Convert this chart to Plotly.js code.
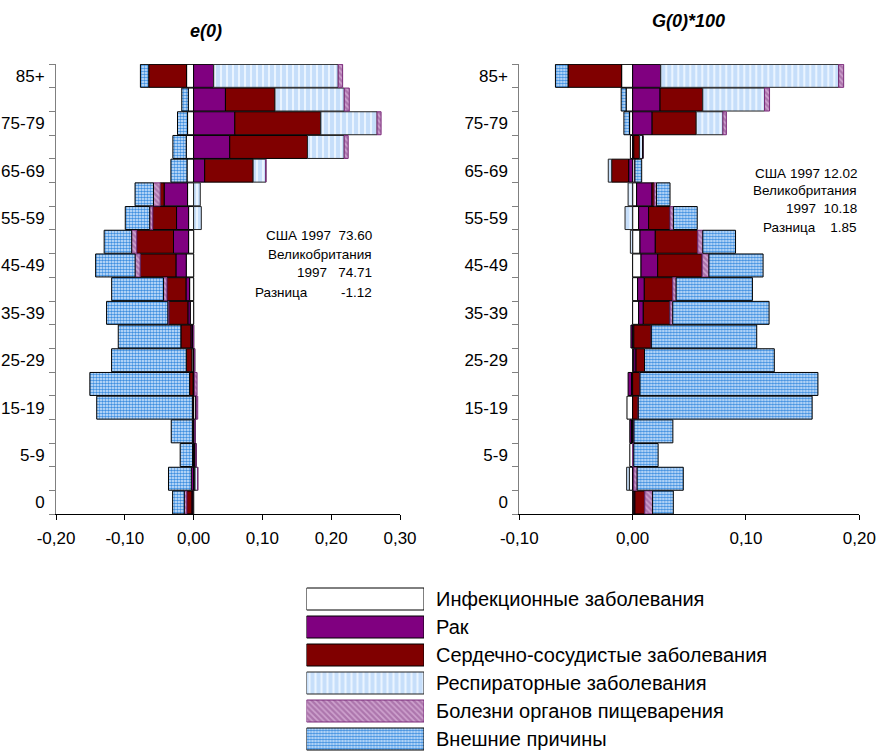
<!DOCTYPE html>
<html>
<head>
<meta charset="utf-8">
<script src="https://cdn.plot.ly/plotly-3.0.1.min.js"></script>
<style>html,body{margin:0;padding:0;background:#fff;}#chart{width:877px;height:754px;}</style>
</head>
<body>
<div id="chart"></div>
<script>
// Age groups (bottom to top)
const categories = ["0","1-4","5-9","10-14","15-19","20-24","25-29","30-34","35-39","40-44","45-49","50-54","55-59","60-64","65-69","70-74","75-79","80-84","85+"];
const seriesNames = ["Инфекционные заболевания","Рак","Сердечно-сосудистые заболевания","Респираторные заболевания","Болезни органов пищеварения","Внешние причины"];

// x tick labels
const e0TickVals = [-0.2,-0.1,0,0.1,0.2,0.3];
const e0TickText = ["-0,20","-0,10","0,00","0,10","0,20","0,30"];
const g0TickVals = [-0.1,0,0.1,0.2];
const g0TickText = ["-0,10","0,00","0,10","0,20"];

// e(0) decomposition
const e0_infectious = [-0.001,0.002,0.0015,-0.0008,0.003,-0.0008,-0.0024,-0.0015,-0.0049,-0.0058,-0.0107,-0.0073,-0.0073,-0.0088,-0.0096,-0.0107,-0.0088,-0.0077,-0.0102];
const e0_cancer     = [-0.0015,-0.0034,-0.0015,0.002,0.001,0.0015,0.0015,-0.0024,-0.0034,-0.0053,-0.015,-0.0219,-0.0175,-0.034,0.0161,0.0525,0.0599,0.0463,0.0292];
const e0_cardio     = [-0.0075,0,0.002,-0.001,-0.0018,-0.005,-0.0083,-0.0146,-0.0277,-0.0277,-0.052,-0.0535,-0.0346,-0.0058,0.0704,0.113,0.125,0.072,-0.055];
const e0_resp       = [0,0.004,0,0,0,0,0,0,0,0,0,0,0.0112,0.0097,0.0185,0.0534,0.0818,0.1007,0.181];
const e0_digest     = [-0.0035,0,0,0,0.002,0.0035,0,0,-0.0015,-0.0049,-0.0073,-0.0073,-0.0044,-0.0097,0,0.0058,0.0058,0.0073,0.0064];
const e0_external   = [-0.017,-0.0331,-0.018,-0.0307,-0.139,-0.145,-0.1085,-0.091,-0.089,-0.0754,-0.0574,-0.040,-0.0355,-0.0268,-0.0234,-0.0194,-0.0146,-0.0095,-0.0121];

// G(0)*100 decomposition
const g0_infectious = [0.001,-0.0029,-0.0025,-0.001,-0.005,-0.001,0.001,0.001,0.0053,0.0044,0.0074,0.0065,0.0053,0.0035,0.002,-0.002,-0.0027,-0.0057,-0.0097];
const g0_cancer     = [0.001,0.001,0,-0.0015,0,-0.003,0.002,-0.0015,0.0041,0.0059,0.0147,0.0135,0.0088,0.0136,-0.0035,0.001,0.0172,0.0242,0.0248];
const g0_cardio     = [0.0088,0,0,0.0012,0.005,0.0065,0.0075,0.0155,0.0236,0.0251,0.0393,0.0375,0.0189,0.002,-0.015,0.005,0.0389,0.0377,-0.0473];
const g0_resp       = [0,-0.0024,0,0,0,0,0,0,0,0,0,-0.002,-0.0067,-0.004,-0.003,0.003,0.0236,0.0545,0.157];
const g0_digest     = [0.0068,0.003,0.001,0,0,0,0,0,0.0024,0.003,0.0059,0.0044,0.003,0.002,0,0,0.003,0.0044,0.0044];
const g0_external   = [0.0183,0.0407,0.0215,0.0343,0.1534,0.157,0.1145,0.093,0.085,0.0673,0.0478,0.0289,0.021,0.0119,0.006,0,-0.005,-0.0044,-0.0111];

const e0Texts = ["США 1997\u00a0\u00a073.60","Великобритания","1997\u00a0\u00a0\u00a074.71","Разница\u00a0\u00a0\u00a0\u00a0\u00a0\u00a0\u00a0\u00a0\u00a0-1.12"];
const g0Texts = ["США 1997 12.02","Великобритания","1997\u00a0\u00a010.18","Разница\u00a0\u00a0\u00a0\u00a01.85"];

const FONT = "Liberation Sans, Arial, sans-serif";
const styles = [
  {color:"#ffffff", line:{color:"#000000",width:1}},
  {color:"#800080", line:{color:"#000000",width:1}},
  {color:"#800000", line:{color:"#000000",width:1}},
  {color:"#cce4fc", line:{color:"#222222",width:1}, pattern:{shape:"|", fgcolor:"#eaf4ff", bgcolor:"#c6defa", size:6, solidity:0.35}},
  {color:"#b480b4", line:{color:"#7a2a7a",width:1}, pattern:{shape:"\\", fgcolor:"#cfa3cf", bgcolor:"#ad76ad", size:4, solidity:0.4}},
  {color:"#9cc6f0", line:{color:"#000000",width:1}, pattern:{shape:".", fgcolor:"#3f8fe0", bgcolor:"#dcecff", size:3, solidity:0.55}}
];

const e0Series = [e0_infectious,e0_cancer,e0_cardio,e0_resp,e0_digest,e0_external];
const g0Series = [g0_infectious,g0_cancer,g0_cardio,g0_resp,g0_digest,g0_external];

function markerFor(i){
  const s = styles[i];
  const m = {color:s.color, line:s.line};
  if (s.pattern) m.pattern = Object.assign({fillmode:"replace"}, s.pattern);
  return m;
}

const traces = [];
e0Series.forEach((vals,i)=>{
  traces.push({type:"bar", orientation:"h", x:vals, y:categories, xaxis:"x", yaxis:"y", name:seriesNames[i], marker:markerFor(i), showlegend:false, hoverinfo:"x+name"});
});
g0Series.forEach((vals,i)=>{
  traces.push({type:"bar", orientation:"h", x:vals, y:categories, xaxis:"x2", yaxis:"y2", name:seriesNames[i], marker:markerFor(i), showlegend:false, hoverinfo:"x+name"});
});
// legend swatches
seriesNames.forEach((n,i)=>{
  traces.push({type:"bar", orientation:"h", x:[1], y:[n], width:[0.786], xaxis:"x3", yaxis:"y3", name:n, marker:markerFor(i), showlegend:false, hoverinfo:"name"});
});

const W=877, H=754;
const px = v => v/W;
const py = v => 1 - v/H;
const yLabels = categories.map((c,i)=> i%2===0 ? c : "");

const yBase = {
  type:"category", categoryorder:"array", categoryarray:categories,
  tickmode:"array", tickvals:categories, ticktext:yLabels, tickson:"boundaries",
  ticks:"outside", ticklen:6, tickcolor:"#808080", showline:true, linecolor:"#808080", linewidth:1,
  showgrid:false, zeroline:false, range:[-0.5,18.5], domain:[py(514.3), py(64)],
  tickfont:{family:FONT,size:17,color:"#000"}, ticklabelstandoff:7, automargin:false, fixedrange:true
};
const xBase = {
  tickmode:"array", ticks:"outside", ticklen:5, tickcolor:"#000", showline:true, linecolor:"#000", linewidth:1,
  showgrid:false, zeroline:true, zerolinecolor:"#808080", zerolinewidth:1,
  tickfont:{family:FONT,size:17,color:"#000"}, automargin:false, fixedrange:true, ticklabelstandoff:3
};

const annotations = [
  {text:"e(0)", x:px(206), y:py(31), xref:"paper", yref:"paper", showarrow:false, xanchor:"center", yanchor:"middle",
   font:{family:FONT,size:18,color:"#000",weight:"bold",style:"italic"}},
  {text:"G(0)*100", x:px(688), y:py(21), xref:"paper", yref:"paper", showarrow:false, xanchor:"center", yanchor:"middle",
   font:{family:FONT,size:18,color:"#000",weight:"bold",style:"italic"}}
];
const e0Y=[235,254,273,292], g0Y=[173,191,209,227];
e0Texts.forEach((t,i)=>annotations.push({text:t, x:px(374), y:py(e0Y[i]), xref:"paper", yref:"paper", showarrow:false, xanchor:"right", yanchor:"middle", font:{family:FONT,size:13.5,color:"#000"}}));
g0Texts.forEach((t,i)=>annotations.push({text:t, x:px(859), y:py(g0Y[i]), xref:"paper", yref:"paper", showarrow:false, xanchor:"right", yanchor:"middle", font:{family:FONT,size:13.5,color:"#000"}}));

const layout = {
  width:W, height:H, margin:{l:0,r:0,t:0,b:0}, paper_bgcolor:"#fff", plot_bgcolor:"rgba(0,0,0,0)",
  barmode:"relative", bargap:0.03, showlegend:false,
  font:{family:FONT,color:"#000"},
  xaxis:Object.assign({}, xBase, {domain:[px(56),px(400)], range:[-0.2,0.3], tickvals:e0TickVals, ticktext:e0TickText, anchor:"y"}),
  yaxis:Object.assign({}, yBase, {anchor:"x"}),
  xaxis2:Object.assign({}, xBase, {domain:[px(519.3),px(859.3)], range:[-0.1,0.2], tickvals:g0TickVals, ticktext:g0TickText, anchor:"y2"}),
  yaxis2:Object.assign({}, yBase, {anchor:"x2"}),
  xaxis3:{domain:[px(306.5),px(424)], range:[0,1], visible:false, anchor:"y3", fixedrange:true},
  yaxis3:{domain:[py(753),py(585)], anchor:"x3", side:"right", type:"category", categoryorder:"array", categoryarray:seriesNames.slice().reverse(),
          showline:false, showgrid:false, zeroline:false, ticks:"", ticklabelstandoff:11,
          tickfont:{family:FONT,size:20,color:"#000"}, automargin:false, fixedrange:true},
  annotations:annotations
};

Plotly.newPlot("chart", traces, layout, {displayModeBar:false, staticPlot:true});
</script>
</body>
</html>
